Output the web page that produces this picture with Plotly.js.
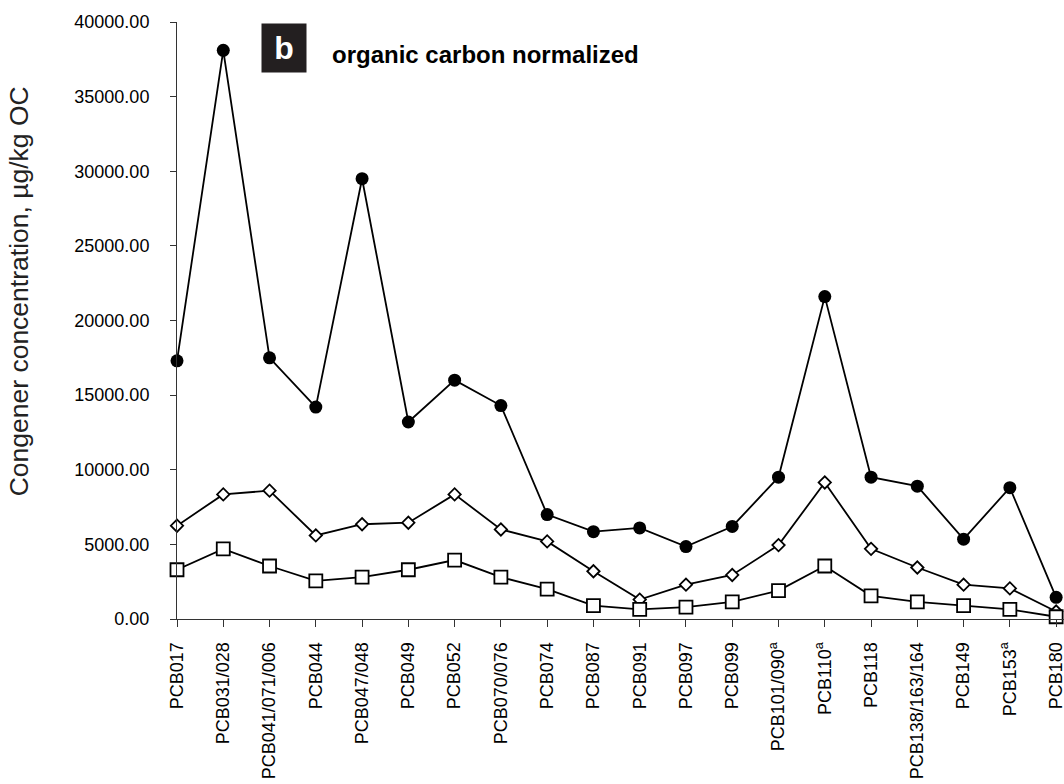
<!DOCTYPE html>
<html>
<head>
<meta charset="utf-8">
<script src="https://cdn.plot.ly/plotly-3.0.1.min.js"></script>
<style>
  html, body { margin: 0; padding: 0; background: #fff; }
  #chart { width: 1064px; height: 784px; }
</style>
</head>
<body>
<div id="chart"></div>
<script>
// PCB congeners along the x axis
const categories = ['PCB017', 'PCB031/028', 'PCB041/071/006', 'PCB044', 'PCB047/048', 'PCB049',
  'PCB052', 'PCB070/076', 'PCB074', 'PCB087', 'PCB091', 'PCB097', 'PCB099', 'PCB101/090',
  'PCB110', 'PCB118', 'PCB138/163/164', 'PCB149', 'PCB153', 'PCB180'];
const tickLabels = ['PCB017', 'PCB031/028', 'PCB041/071/006', 'PCB044', 'PCB047/048', 'PCB049',
  'PCB052', 'PCB070/076', 'PCB074', 'PCB087', 'PCB091', 'PCB097', 'PCB099', 'PCB101/090<sup>a</sup>',
  'PCB110<sup>a</sup>', 'PCB118', 'PCB138/163/164', 'PCB149', 'PCB153<sup>a</sup>', 'PCB180'];

// Organic-carbon-normalized concentrations, µg/kg OC
const upperValues = [17300, 38100, 17500, 14200, 29500, 13200, 16000, 14300, 7000, 5850,
  6100, 4850, 6200, 9500, 21600, 9500, 8900, 5350, 8800, 1450];
const middleValues = [6250, 8350, 8600, 5600, 6350, 6450, 8350, 6000, 5200, 3200,
  1300, 2300, 2950, 4950, 9150, 4700, 3450, 2300, 2050, 500];
const lowerValues = [3300, 4700, 3550, 2550, 2800, 3300, 3950, 2800, 2000, 900,
  650, 800, 1150, 1900, 3550, 1550, 1150, 900, 650, 150];

const yTicks = [0, 5000, 10000, 15000, 20000, 25000, 30000, 35000, 40000];

const lineStyle = { color: '#000', width: 1.8 };

const traces = [
  {
    x: categories, y: upperValues, type: 'scatter', mode: 'lines+markers',
    line: lineStyle, cliponaxis: false,
    marker: { symbol: 'circle', size: 13, color: '#000', line: { color: '#000', width: 0 } }
  },
  {
    x: categories, y: middleValues, type: 'scatter', mode: 'lines+markers',
    line: lineStyle, cliponaxis: false,
    marker: { symbol: 'diamond', size: 9.5, color: '#fff', line: { color: '#000', width: 1.8 } }
  },
  {
    x: categories, y: lowerValues, type: 'scatter', mode: 'lines+markers',
    line: lineStyle, cliponaxis: false,
    marker: { symbol: 'square', size: 13, color: '#fff', line: { color: '#000', width: 1.8 } }
  }
];

const fontFamily = 'Arial, "Liberation Sans", sans-serif';
const tickFont = { family: fontFamily, size: 18, color: '#000' };

const layout = {
  width: 1064, height: 784,
  margin: { l: 177, r: 0, t: 22, b: 165 },
  paper_bgcolor: '#fff', plot_bgcolor: '#fff',
  showlegend: false,
  xaxis: {
    type: 'category',
    range: [0, 19.17],
    tickvals: categories, ticktext: tickLabels,
    tickangle: -90, tickfont: tickFont,
    ticks: 'outside', ticklen: 7, tickwidth: 1, tickcolor: '#333',
    ticklabelstandoff: 8,
    showline: true, linecolor: '#333', linewidth: 1,
    showgrid: false, zeroline: false, fixedrange: true
  },
  yaxis: {
    range: [0, 40000],
    tickvals: yTicks, tickformat: '.2f', tickfont: tickFont,
    ticks: 'outside', ticklen: 6, tickwidth: 1, tickcolor: '#333',
    ticklabelstandoff: 17,
    showline: true, linecolor: '#333', linewidth: 1,
    showgrid: false, zeroline: false, fixedrange: true
  },
  // companion axes carry the inner half of the crossing tick marks
  xaxis2: {
    overlaying: 'x', anchor: 'y', side: 'bottom',
    range: [0, 19.17], tick0: 0, dtick: 1,
    ticks: 'inside', ticklen: 5, tickwidth: 1, tickcolor: '#333',
    showticklabels: false, showline: false, showgrid: false, zeroline: false, fixedrange: true
  },
  yaxis2: {
    overlaying: 'y', anchor: 'x', side: 'left',
    range: [0, 40000], tickvals: yTicks,
    ticks: 'inside', ticklen: 6, tickwidth: 1, tickcolor: '#333',
    showticklabels: false, showline: false, showgrid: false, zeroline: false, fixedrange: true
  },
  annotations: [
    {
      text: 'Congener concentration, µg/kg OC',
      xref: 'paper', yref: 'paper', x: -0.178, y: 0.549,
      xanchor: 'center', yanchor: 'middle', textangle: -90, showarrow: false,
      font: { family: fontFamily, size: 26.5, color: '#222' }
    },
    {
      text: '<b>b</b>',
      xref: 'paper', yref: 'paper', x: 0.1206, y: 0.957,
      xanchor: 'center', yanchor: 'middle', showarrow: false,
      width: 44, height: 48, bgcolor: '#231f20', borderpad: 0,
      font: { family: fontFamily, size: 32, color: '#fff' }
    },
    {
      text: '<b>organic carbon normalized</b>',
      xref: 'paper', yref: 'paper', x: 0.1722, y: 0.945,
      xanchor: 'left', yanchor: 'middle', showarrow: false,
      font: { family: fontFamily, size: 24, color: '#000' }
    }
  ]
};

Plotly.newPlot('chart', traces, layout, { staticPlot: true, displayModeBar: false });
</script>
</body>
</html>
